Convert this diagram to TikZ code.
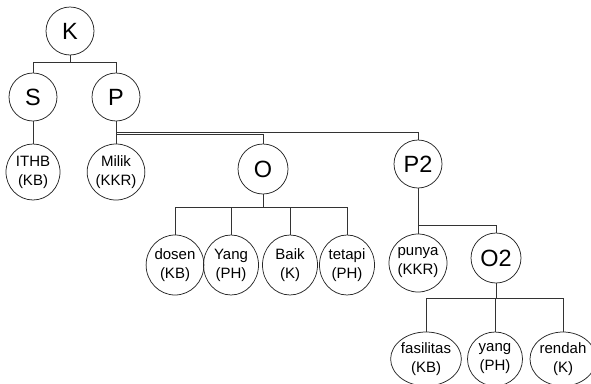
\documentclass[tikz,border=0pt]{standalone}
\usepackage{fontspec}
\setmainfont{Liberation Sans}
\usetikzlibrary{shapes.geometric}
\tikzset{
  conn/.style={draw=black!80, line width=0.75pt},
  bigc/.style={draw=black!85, line width=0.75pt, ellipse, inner sep=0pt,
    minimum width=48pt, minimum height=48pt, font=\fontsize{23.5}{26}\selectfont},
  smallc/.style={draw=black!85, line width=0.75pt, ellipse, inner sep=0pt,
    minimum width=54pt, minimum height=56pt, align=center,
    font=\fontsize{15}{19}\selectfont}
}
\begin{document}
\begin{tikzpicture}[x=1pt,y=-1pt]
\useasboundingbox (0,0) rectangle (591,383);
% level nodes
\node[bigc] (K) at (70,31) {K};
\node[bigc] (S) at (33,97) {S};
\node[bigc] (P) at (116,97) {P};
\node[smallc] (ITHB) at (33,172) {ITHB\\(KB)};
\node[smallc] (Milik) at (116,172) {Milik\\(KKR)};
\node[bigc, minimum width=50pt, minimum height=50pt] (O) at (263,169) {O};
\node[bigc] (P2) at (418,164) {P2};
\node[smallc, minimum width=55pt, minimum height=60pt] (dosen) at (175,265) {dosen\\(KB)};
\node[smallc, minimum width=55pt, minimum height=60pt] (Yang) at (231,265) {Yang\\(PH)};
\node[smallc, minimum width=55pt, minimum height=60pt] (Baik) at (290,265) {Baik\\(K)};
\node[smallc, minimum width=55pt, minimum height=60pt] (tetapi) at (347,265) {tetapi\\(PH)};
\node[smallc, minimum width=58pt, minimum height=58pt] (punya) at (418,263) {punya\\(KKR)};
\node[bigc, minimum width=50pt, minimum height=50pt] (O2) at (496,258) {O2};
\node[smallc, minimum width=55pt, minimum height=54pt] (fasilitas) at (426,359) {fasilitas\\(KB)};
\node[smallc, minimum width=55pt, minimum height=54pt] (yang) at (495,359) {yang\\(PH)};
\node[smallc, minimum width=55pt, minimum height=54pt] (rendah) at (563,359) {rendah\\(K)};
% connectors
\draw[conn] (K.south) -- ++(0,7) coordinate (kj);
\draw[conn] (S.north) |- (kj) -| (P.north);
\draw[conn] (S) -- (ITHB);
\draw[conn] (P) -- (Milik);
\draw[conn] (P.south) -- ++(0,10.5) -| (P2.north);
\draw[conn] (P.south) -- ++(0,13) -| (O.north);
\draw[conn] (O.south) -- ++(0,13) coordinate (oj);
\draw[conn] (dosen.north) |- (oj) -| (tetapi.north);
\draw[conn] (Yang.north) -- (Yang.north |- oj);
\draw[conn] (Baik.north) -- (Baik.north |- oj);
\draw[conn] (P2) -- (punya);
\draw[conn] (P2.south) ++(0,37) coordinate (pj);
\draw[conn] (pj) -| (O2.north);
\draw[conn] (O2.south) -- ++(0,15) coordinate (o2j);
\draw[conn] (fasilitas.north) |- (o2j) -| (rendah.north);
\draw[conn] (yang.north) -- (yang.north |- o2j);
\end{tikzpicture}
\end{document}
